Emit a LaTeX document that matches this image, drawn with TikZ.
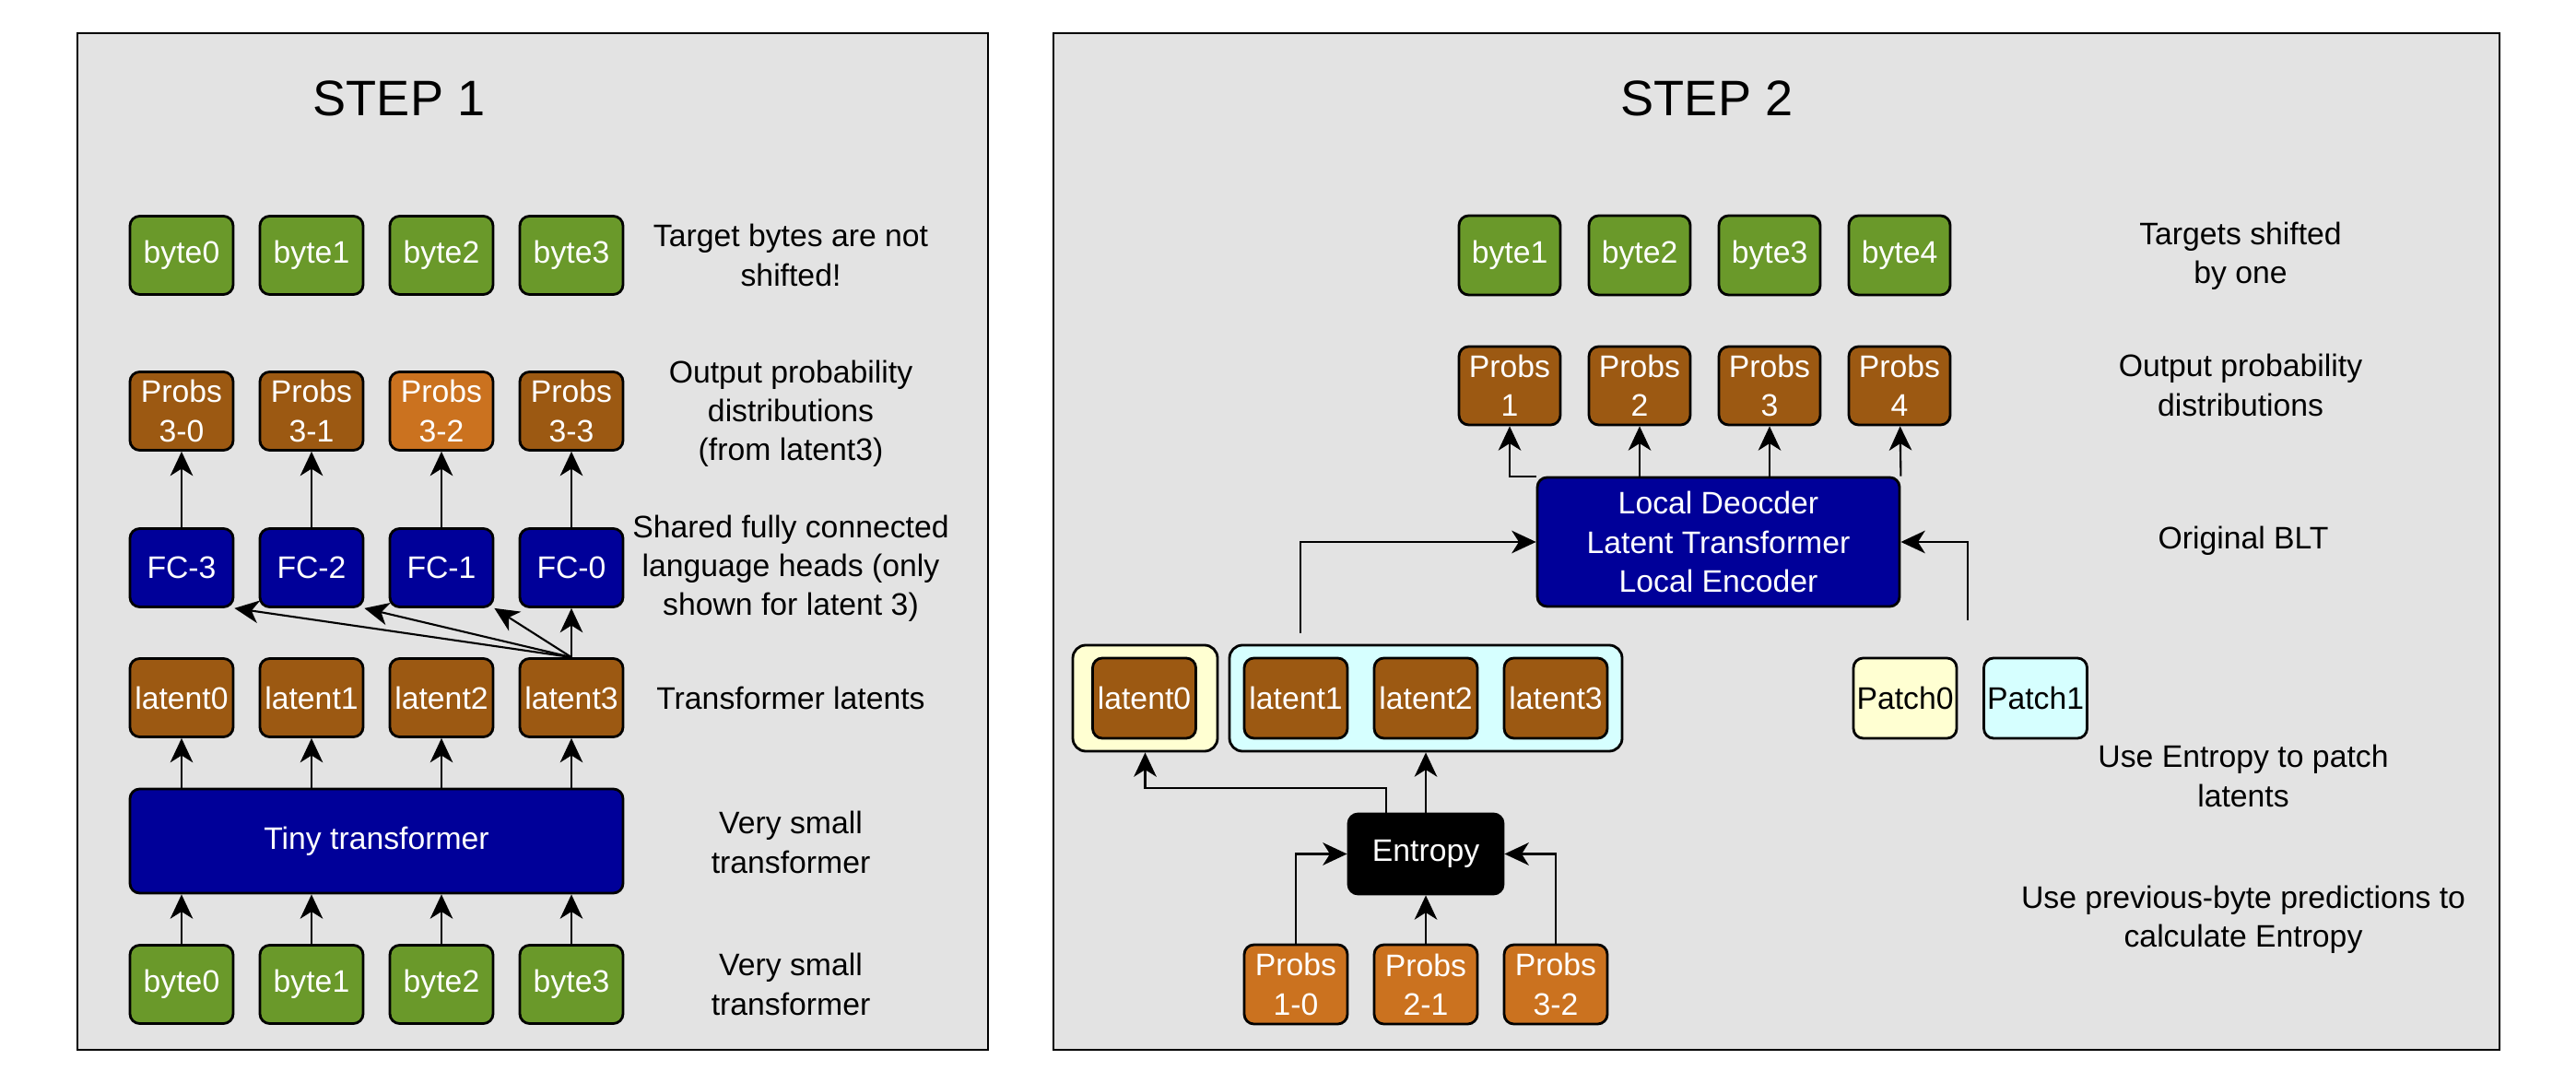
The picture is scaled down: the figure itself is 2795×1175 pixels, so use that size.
\documentclass[tikz,border=0pt]{standalone}
\usepackage{fontspec}
\setmainfont{Liberation Sans}
\usetikzlibrary{arrows.meta}
\definecolor{panelgray}{HTML}{E3E3E3}
\definecolor{bytegreen}{HTML}{6A992A}
\definecolor{probbrown}{HTML}{9C5912}
\definecolor{proborange}{HTML}{CB721F}
\definecolor{headblue}{HTML}{000099}
\definecolor{patchyellow}{HTML}{FFFFD2}
\definecolor{patchcyan}{HTML}{D6FFFF}
\begin{document}
\begin{tikzpicture}[x=0.1mm, y=-0.1mm,
	>={Stealth[length=7.5pt,width=7pt,inset=2.2pt]},
	every node/.style={font=\fontsize{9.6}{12}\selectfont},
	blk/.style={draw, line width=0.8pt, rounded corners=3pt, minimum width=11.2mm, minimum height=8.5mm, inner sep=0pt, align=center, text=white},
	bytebox/.style={blk, fill=bytegreen},
	probbox/.style={blk, fill=probbrown},
	hotbox/.style={blk, fill=proborange},
	headbox/.style={blk, fill=headblue},
	patchbox/.style={blk, text=black, minimum height=8.7mm},
	grp/.style={draw, line width=0.8pt, rounded corners=4pt, inner sep=0pt, minimum height=11.5mm},
	note/.style={align=center},
	steptitle/.style={font=\fontsize{15.4}{18}\selectfont},
	wire/.style={line width=0.6pt, ->}]
	\useasboundingbox (0,0) rectangle (2795,1175);
	% step 1
	\draw[fill=panelgray, line width=0.7pt] (84,36) rectangle (1072,1139);
	\node[steptitle] (s1) at (433,107) {STEP 1};
	\node[bytebox] (tb0) at (197,277) {byte0};
	\node[bytebox] (tb1) at (338,277) {byte1};
	\node[bytebox] (tb2) at (479,277) {byte2};
	\node[bytebox] (tb3) at (620,277) {byte3};
	\node[note] (n1) at (858,277) {Target bytes are not\\shifted!};
	\node[probbox] (pr0) at (197,446) {Probs\\3-0};
	\node[probbox] (pr1) at (338,446) {Probs\\3-1};
	\node[hotbox] (pr2) at (479,446) {Probs\\3-2};
	\node[probbox] (pr3) at (620,446) {Probs\\3-3};
	\node[note] (n2) at (858,449) {Output probability\\distributions\\(from latent3)};
	\node[headbox] (fc3) at (197,616) {FC-3};
	\node[headbox] (fc2) at (338,616) {FC-2};
	\node[headbox] (fc1) at (479,616) {FC-1};
	\node[headbox] (fc0) at (620,616) {FC-0};
	\node[note] (n3) at (858,617) {Shared fully connected\\language heads (only\\shown for latent 3)};
	\node[probbox] (lat0) at (197,757) {latent0};
	\node[probbox] (lat1) at (338,757) {latent1};
	\node[probbox] (lat2) at (479,757) {latent2};
	\node[probbox] (lat3) at (620,757) {latent3};
	\node[note] (n4) at (858,757) {Transformer latents};
	\node[headbox, minimum width=53.5mm, minimum height=11.3mm] (tiny) at (408.5,912.5) {Tiny transformer};
	\node[note] (n5) at (858,914) {Very small\\transformer};
	\node[bytebox] (ib0) at (197,1068) {byte0};
	\node[bytebox] (ib1) at (338,1068) {byte1};
	\node[bytebox] (ib2) at (479,1068) {byte2};
	\node[bytebox] (ib3) at (620,1068) {byte3};
	\node[note] (n6) at (858,1068) {Very small\\transformer};
	\draw[wire] (ib0) -- (ib0 |- tiny.south);
	\draw[wire] (ib1) -- (ib1 |- tiny.south);
	\draw[wire] (ib2) -- (ib2 |- tiny.south);
	\draw[wire] (ib3) -- (ib3 |- tiny.south);
	\draw[wire] (tiny.north -| lat0) -- (lat0);
	\draw[wire] (tiny.north -| lat1) -- (lat1);
	\draw[wire] (tiny.north -| lat2) -- (lat2);
	\draw[wire] (tiny.north -| lat3) -- (lat3);
	\draw[wire] (lat3.north) -- (fc3.south east);
	\draw[wire] (lat3.north) -- (fc2.south east);
	\draw[wire] (lat3.north) -- (fc1.south east);
	\draw[wire] (lat3) -- (fc0);
	\draw[wire] (fc3) -- (pr0);
	\draw[wire] (fc2) -- (pr1);
	\draw[wire] (fc1) -- (pr2);
	\draw[wire] (fc0) -- (pr3);
	% step 2
	\draw[fill=panelgray, line width=0.7pt] (1143,36) rectangle (2712,1139);
	\node[steptitle] (s2) at (1852,107) {STEP 2};
	\node[bytebox, minimum width=11mm, minimum height=8.6mm] (tg1) at (1638,277) {byte1};
	\node[bytebox, minimum width=11mm, minimum height=8.6mm] (tg2) at (1779,277) {byte2};
	\node[bytebox, minimum width=11mm, minimum height=8.6mm] (tg3) at (1920,277) {byte3};
	\node[bytebox, minimum width=11mm, minimum height=8.6mm] (tg4) at (2061,277) {byte4};
	\node[note] (n7) at (2431,278) {Targets shifted\\by one};
	\node[probbox, minimum width=11mm] (op1) at (1638,418.5) {Probs\\1};
	\node[probbox, minimum width=11mm] (op2) at (1779,418.5) {Probs\\2};
	\node[probbox, minimum width=11mm] (op3) at (1920,418.5) {Probs\\3};
	\node[probbox, minimum width=11mm] (op4) at (2061,418.5) {Probs\\4};
	\node[note] (n8) at (2431,418) {Output probability\\distributions};
	\node[headbox, minimum width=39.3mm, minimum height=14mm] (blt) at (1864.5,588) {Local Deocder\\Latent Transformer\\Local Encoder};
	\node[note] (n9) at (2434,587) {Original BLT};
	\node[grp, fill=patchyellow, minimum width=15.7mm] (g0) at (1242.5,757.5) {};
	\node[grp, fill=patchcyan, minimum width=42.6mm] (g1) at (1547,757.5) {};
	\node[probbox, minimum height=8.7mm] (la0) at (1241.5,757.5) {latent0};
	\node[probbox, minimum height=8.7mm] (la1) at (1406,757.5) {latent1};
	\node[probbox, minimum height=8.7mm] (la2) at (1547,757.5) {latent2};
	\node[probbox, minimum height=8.7mm] (la3) at (1688,757.5) {latent3};
	\node[patchbox, fill=patchyellow] (pt0) at (2067,757.5) {Patch0};
	\node[patchbox, fill=patchcyan] (pt1) at (2208.5,757.5) {Patch1};
	\node[note] (n10) at (2434,842) {Use Entropy to patch\\latents};
	\node[blk, fill=black, minimum width=16.8mm, minimum height=8.7mm] (ent) at (1547,926.5) {Entropy};
	\node[note] (n11) at (2434,998) {Use previous-byte predictions to\\calculate Entropy};
	\node[hotbox, minimum height=8.6mm] (pp0) at (1406,1068) {Probs\\1-0};
	\node[hotbox, minimum height=8.6mm] (pp1) at (1547,1068) {Probs\\2-1};
	\node[hotbox, minimum height=8.6mm] (pp2) at (1688,1068) {Probs\\3-2};
	\coordinate (fromlat) at (1411,687);
	\coordinate (frompatch) at (2135,673);
	\draw[wire] (blt.north west) -| (op1.south);
	\draw[wire] (blt.north -| op2) -- (op2);
	\draw[wire] (blt.north -| op3) -- (op3);
	\draw[wire] (blt.north east) -- (op4);
	\draw[wire] (fromlat) |- (blt.west);
	\draw[wire] (frompatch) |- (blt.east);
	\draw[wire] ([xshift=-4.3mm]ent.north) -- ++(0,-27) -| (g0.south);
	\draw[wire] (ent) -- (g1);
	\draw[wire] (pp0.north) |- (ent.west);
	\draw[wire] (pp1) -- (ent);
	\draw[wire] (pp2.north) |- (ent.east);
\end{tikzpicture}
\end{document}
